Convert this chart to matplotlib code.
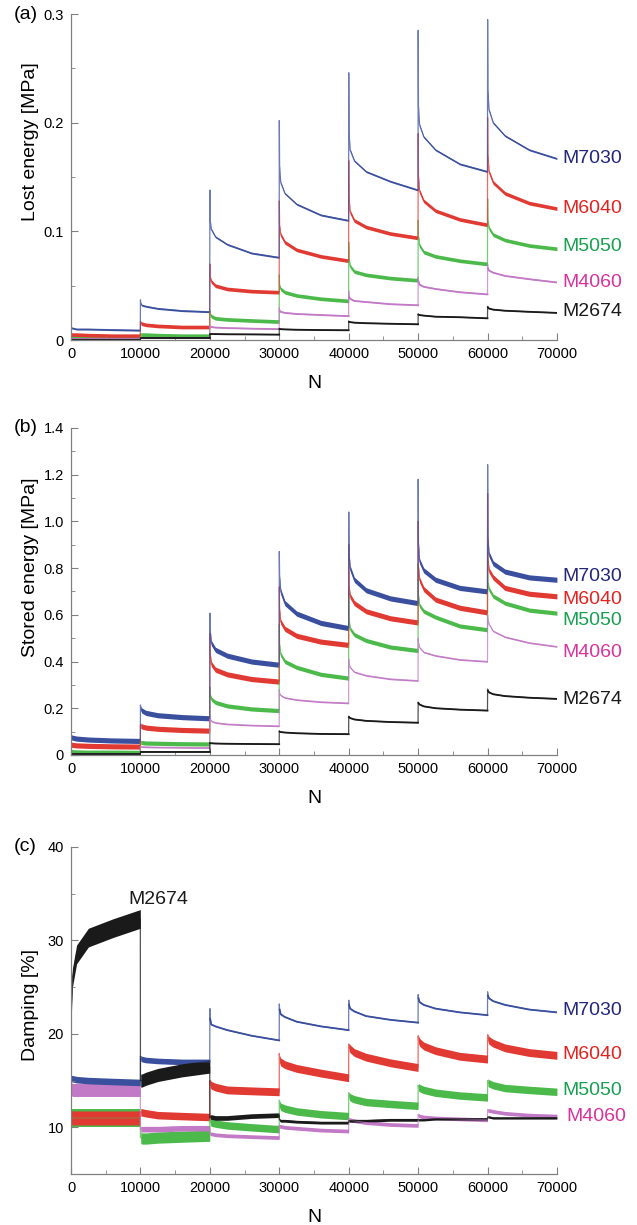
import matplotlib
matplotlib.use("Agg")
import matplotlib.pyplot as plt
from matplotlib.ticker import MultipleLocator, FixedLocator, FuncFormatter

plt.rcParams['font.family'] = ['Liberation Sans', 'DejaVu Sans']

# cycle blocks: each block of 10000 cycles sampled at the same offsets
block_starts = [0, 10000, 20000, 30000, 40000, 50000, 60000]
offsets = [0, 40, 200, 800, 2500, 6000, 9980]

# drawing order (back to front)
series_names = ["M5050", "M6040", "M4060", "M7030", "M2674"]

# (a) lost energy [MPa], one row per block
lost_7030 = [[0.011, 0.011, 0.011, 0.010, 0.010, 0.0095, 0.009],
             [0.037, 0.034, 0.032, 0.031, 0.029, 0.027, 0.026],
             [0.138, 0.110, 0.102, 0.095, 0.088, 0.080, 0.076],
             [0.202, 0.160, 0.145, 0.135, 0.125, 0.115, 0.110],
             [0.246, 0.190, 0.175, 0.165, 0.155, 0.146, 0.138],
             [0.285, 0.215, 0.198, 0.187, 0.175, 0.162, 0.155],
             [0.295, 0.230, 0.212, 0.200, 0.188, 0.175, 0.167]]
lost_6040 = [[0.0055, 0.005, 0.005, 0.005, 0.0045, 0.004, 0.004],
             [0.017, 0.016, 0.015, 0.014, 0.013, 0.012, 0.012],
             [0.070, 0.058, 0.054, 0.050, 0.047, 0.045, 0.044],
             [0.128, 0.105, 0.097, 0.090, 0.083, 0.077, 0.073],
             [0.165, 0.130, 0.118, 0.110, 0.104, 0.098, 0.094],
             [0.190, 0.150, 0.137, 0.128, 0.119, 0.111, 0.106],
             [0.205, 0.170, 0.155, 0.145, 0.135, 0.126, 0.121]]
lost_5050 = [[0.002, 0.002, 0.002, 0.002, 0.0015, 0.0015, 0.0015],
             [0.006, 0.005, 0.005, 0.005, 0.0045, 0.004, 0.004],
             [0.027, 0.024, 0.022, 0.020, 0.019, 0.018, 0.017],
             [0.060, 0.050, 0.047, 0.044, 0.041, 0.038, 0.036],
             [0.090, 0.075, 0.068, 0.063, 0.060, 0.057, 0.055],
             [0.110, 0.095, 0.087, 0.081, 0.077, 0.073, 0.070],
             [0.130, 0.110, 0.103, 0.097, 0.092, 0.087, 0.084]]
lost_4060 = [[0.001, 0.001, 0.001, 0.001, 0.001, 0.001, 0.001],
             [0.0025, 0.0022, 0.002, 0.002, 0.002, 0.002, 0.002],
             [0.013, 0.0125, 0.012, 0.0115, 0.011, 0.0105, 0.010],
             [0.030, 0.027, 0.026, 0.025, 0.024, 0.023, 0.022],
             [0.045, 0.040, 0.038, 0.036, 0.035, 0.033, 0.032],
             [0.058, 0.054, 0.051, 0.049, 0.047, 0.044, 0.042],
             [0.070, 0.066, 0.064, 0.062, 0.059, 0.056, 0.053]]
lost_2674 = [[0.0005, 0.0005, 0.0005, 0.0005, 0.0005, 0.0005, 0.0005],
             [0.002, 0.002, 0.002, 0.002, 0.002, 0.002, 0.002],
             [0.0055, 0.0055, 0.0055, 0.0055, 0.0053, 0.0052, 0.005],
             [0.0105, 0.0103, 0.0100, 0.0098, 0.0095, 0.0092, 0.009],
             [0.0175, 0.0168, 0.0165, 0.016, 0.0155, 0.015, 0.0145],
             [0.024, 0.0235, 0.023, 0.0225, 0.0215, 0.021, 0.020],
             [0.031, 0.030, 0.029, 0.028, 0.027, 0.026, 0.025]]

# (b) stored energy [MPa]
stored_7030 = [[0.078, 0.076, 0.074, 0.070, 0.066, 0.062, 0.060],
               [0.214, 0.200, 0.190, 0.180, 0.170, 0.162, 0.157],
               [0.607, 0.530, 0.480, 0.450, 0.425, 0.400, 0.386],
               [0.871, 0.760, 0.700, 0.650, 0.605, 0.565, 0.543],
               [1.040, 0.860, 0.800, 0.750, 0.705, 0.670, 0.650],
               [1.180, 0.900, 0.830, 0.790, 0.750, 0.715, 0.700],
               [1.243, 0.930, 0.860, 0.820, 0.785, 0.760, 0.750]]
stored_6040 = [[0.045, 0.044, 0.043, 0.041, 0.039, 0.037, 0.036],
               [0.130, 0.126, 0.122, 0.117, 0.112, 0.107, 0.104],
               [0.520, 0.430, 0.390, 0.365, 0.345, 0.325, 0.314],
               [0.720, 0.620, 0.570, 0.540, 0.510, 0.485, 0.471],
               [0.900, 0.720, 0.680, 0.650, 0.615, 0.585, 0.567],
               [1.000, 0.800, 0.750, 0.710, 0.665, 0.630, 0.610],
               [1.120, 0.840, 0.790, 0.760, 0.715, 0.690, 0.679]]
stored_5050 = [[0.015, 0.015, 0.014, 0.013, 0.012, 0.012, 0.011],
               [0.056, 0.054, 0.053, 0.051, 0.050, 0.048, 0.047],
               [0.290, 0.257, 0.240, 0.225, 0.210, 0.197, 0.190],
               [0.560, 0.470, 0.430, 0.400, 0.375, 0.345, 0.329],
               [0.700, 0.580, 0.540, 0.515, 0.490, 0.462, 0.447],
               [0.820, 0.680, 0.640, 0.615, 0.590, 0.552, 0.536],
               [0.900, 0.740, 0.710, 0.680, 0.650, 0.620, 0.607]]
stored_4060 = [[0.006, 0.006, 0.006, 0.005, 0.005, 0.005, 0.005],
               [0.037, 0.036, 0.035, 0.034, 0.033, 0.032, 0.031],
               [0.160, 0.153, 0.145, 0.138, 0.132, 0.127, 0.124],
               [0.280, 0.264, 0.255, 0.245, 0.236, 0.227, 0.222],
               [0.410, 0.390, 0.375, 0.355, 0.340, 0.325, 0.318],
               [0.500, 0.480, 0.460, 0.440, 0.425, 0.408, 0.400],
               [0.600, 0.580, 0.560, 0.530, 0.505, 0.480, 0.464]]
stored_2674 = [[0.003, 0.003, 0.003, 0.003, 0.003, 0.003, 0.003],
               [0.014, 0.014, 0.014, 0.014, 0.014, 0.014, 0.014],
               [0.052, 0.051, 0.050, 0.049, 0.048, 0.047, 0.046],
               [0.103, 0.100, 0.098, 0.096, 0.093, 0.090, 0.089],
               [0.166, 0.162, 0.158, 0.152, 0.146, 0.141, 0.138],
               [0.226, 0.222, 0.216, 0.208, 0.200, 0.194, 0.190],
               [0.282, 0.275, 0.268, 0.260, 0.252, 0.245, 0.240]]

# (c) damping [%]
damp_7030 = [[15.3, 15.2, 15.2, 15.1, 15.0, 14.9, 14.8],
             [17.6, 17.4, 17.3, 17.2, 17.1, 17.0, 17.0],
             [22.7, 21.6, 21.0, 20.8, 20.4, 19.8, 19.3],
             [23.2, 22.6, 22.1, 21.8, 21.3, 20.8, 20.4],
             [23.6, 23.1, 22.7, 22.4, 21.9, 21.5, 21.2],
             [24.2, 23.8, 23.4, 23.1, 22.7, 22.3, 22.0],
             [24.5, 24.1, 23.8, 23.5, 23.1, 22.6, 22.3]]
damp_6040 = [[11.2, 11.1, 11.0, 11.0, 11.0, 11.0, 11.0],
             [11.7, 11.6, 11.6, 11.5, 11.3, 11.2, 11.1],
             [15.0, 14.7, 14.5, 14.3, 14.0, 13.9, 13.8],
             [17.9, 17.3, 17.0, 16.7, 16.3, 15.8, 15.3],
             [18.9, 18.6, 18.4, 18.0, 17.5, 16.9, 16.4],
             [19.8, 19.4, 19.1, 18.7, 18.2, 17.6, 17.3],
             [19.9, 19.6, 19.3, 19.0, 18.5, 18.0, 17.7]]
damp_5050 = [[11.0, 11.0, 11.0, 11.0, 11.0, 11.0, 11.0],
             [8.9, 8.9, 8.8, 8.8, 8.9, 9.0, 9.1],
             [10.8, 10.7, 10.5, 10.4, 10.2, 10.0, 9.8],
             [12.9, 12.5, 12.2, 12.0, 11.7, 11.4, 11.2],
             [13.7, 13.4, 13.2, 13.0, 12.7, 12.5, 12.3],
             [14.5, 14.3, 14.2, 14.0, 13.7, 13.4, 13.2],
             [15.0, 14.8, 14.7, 14.5, 14.2, 14.0, 13.8]]
damp_4060 = [[14.2, 14.1, 14.0, 14.0, 14.0, 14.0, 14.0],
             [9.8, 9.8, 9.8, 9.8, 9.8, 9.9, 9.9],
             [9.4, 9.3, 9.3, 9.2, 9.1, 9.0, 8.9],
             [10.2, 10.1, 10.1, 10.0, 9.9, 9.7, 9.6],
             [11.0, 10.9, 10.8, 10.7, 10.5, 10.3, 10.2],
             [11.4, 11.3, 11.2, 11.1, 11.0, 10.9, 10.8],
             [11.9, 11.8, 11.8, 11.7, 11.5, 11.3, 11.2]]
damp_2674 = [[20.5, 23.0, 26.0, 28.5, 30.3, 31.3, 32.3],
             [15.0, 15.0, 15.0, 15.2, 15.6, 16.1, 16.5],
             [11.0, 11.1, 11.1, 11.0, 11.0, 11.2, 11.3],
             [10.8, 10.8, 10.7, 10.7, 10.6, 10.5, 10.5],
             [10.7, 10.7, 10.7, 10.7, 10.7, 10.8, 10.8],
             [10.8, 10.8, 10.8, 10.8, 10.9, 10.9, 10.9],
             [11.1, 11.1, 11.1, 11.0, 11.0, 11.0, 11.0]]

line_colors = {"M7030": "#3a4f9e", "M6040": "#e03a33", "M5050": "#4cba4a",
               "M4060": "#c27ac6", "M2674": "#1a1a1a"}
text_colors = {"M7030": "#23267a", "M6040": "#e2231f", "M5050": "#17a050",
               "M4060": "#d8339b", "M2674": "#1a1a1a"}

# half width of the noise band per block, in data units (0 = plain line)
band_a = {"M7030": [0.0008] * 7, "M6040": [0.0017] * 7, "M5050": [0.0017] * 7,
          "M4060": [0] * 7, "M2674": [0] * 7}
band_b = {"M7030": [0.011] * 7, "M6040": [0.011] * 7, "M5050": [0.009] * 7,
          "M4060": [0.003] * 7, "M2674": [0] * 7}
band_c = {"M7030": [0.35, 0.3, 0, 0, 0, 0, 0],
          "M6040": [0.75, 0.4, 0.42, 0.42, 0.42, 0.42, 0.42],
          "M5050": [1.0, 0.6, 0.4, 0.4, 0.4, 0.4, 0.4],
          "M4060": [0.7, 0.3, 0.2, 0.2, 0.2, 0.2, 0.2],
          "M2674": [1.0, 0.7, 0.25, 0.15, 0.15, 0.12, 0.12]}


def draw_series(ax, blocks, name, halfwidths):
    color = line_colors[name]
    xs, ys = [], []
    for start, vals in zip(block_starts, blocks):
        xs += [start + o for o in offsets]
        ys += vals
    # thin trace through every point (start spikes and jumps)
    ax.plot(xs, ys, color=color, lw=0.9, alpha=0.75)
    for start, vals, h in zip(block_starts, blocks, halfwidths):
        bx = [start + o for o in offsets[1:]]
        by = vals[1:]
        if h > 0:
            ax.fill_between(bx, [v - h for v in by], [v + h for v in by],
                            color=color, lw=0)
        else:
            ax.plot(bx, by, color=color, lw=1.3)


def style_axes(ax, ymax, ymajor, yminor, ymin=0):
    ax.set_xlim(0, 70000)
    ax.set_ylim(ymin, ymax)
    ax.xaxis.set_major_locator(MultipleLocator(10000))
    ax.xaxis.set_minor_locator(MultipleLocator(5000))
    ax.yaxis.set_major_locator(MultipleLocator(ymajor))
    ax.yaxis.set_minor_locator(MultipleLocator(yminor))
    for side in ["top", "right"]:
        ax.spines[side].set_visible(False)
    for side in ["left", "bottom"]:
        ax.spines[side].set_color("#808080")
        ax.spines[side].set_linewidth(0.9)
    ax.tick_params(which="both", direction="in", color="#808080",
                   labelsize=10.5, pad=5)
    ax.tick_params(which="major", length=5)
    ax.tick_params(which="minor", length=3)
    ax.set_xlabel("N", fontsize=14, labelpad=10)


fig = plt.figure(figsize=(6.37, 12.25), dpi=100)
ax_a = fig.add_axes([0.1115, 0.7224, 0.763, 0.2661])
ax_b = fig.add_axes([0.1115, 0.3837, 0.763, 0.267])
ax_c = fig.add_axes([0.1115, 0.0416, 0.763, 0.267])

panels = [
    (ax_a, {"M7030": lost_7030, "M6040": lost_6040, "M5050": lost_5050,
            "M4060": lost_4060, "M2674": lost_2674}, band_a),
    (ax_b, {"M7030": stored_7030, "M6040": stored_6040, "M5050": stored_5050,
            "M4060": stored_4060, "M2674": stored_2674}, band_b),
    (ax_c, {"M7030": damp_7030, "M6040": damp_6040, "M5050": damp_5050,
            "M4060": damp_4060, "M2674": damp_2674}, band_c),
]
for ax, data, bands in panels:
    for name in series_names:
        draw_series(ax, data[name], name, bands[name])

style_axes(ax_a, 0.3, 0.1, 0.05)
ax_a.yaxis.set_major_locator(FixedLocator([0, 0.1, 0.2, 0.3]))
ax_a.set_yticklabels(["0", "0.1", "0.2", "0.3"])
ax_a.set_ylabel("Lost energy [MPa]", fontsize=14)
ax_a.yaxis.set_label_coords(-0.066, 0.61)

style_axes(ax_b, 1.4, 0.2, 0.1)
ax_b.yaxis.set_major_formatter(
    FuncFormatter(lambda v, p: "0" if v == 0 else f"{v:.1f}"))
ax_b.set_ylabel("Stored energy [MPa]", fontsize=14)
ax_b.yaxis.set_label_coords(-0.066, 0.575)

style_axes(ax_c, 40, 10, 5, ymin=5)
ax_c.set_ylabel("Damping [%]", fontsize=14)
ax_c.yaxis.set_label_coords(-0.066, 0.517)

# series labels at the right end of each panel
label_pos_a = {"M7030": 0.167, "M6040": 0.121, "M5050": 0.086,
               "M4060": 0.053, "M2674": 0.026}
label_pos_b = {"M7030": 0.763, "M6040": 0.666, "M5050": 0.576,
               "M4060": 0.438, "M2674": 0.238}
label_pos_c = {"M7030": 22.5, "M6040": 17.8, "M5050": 13.9, "M4060": 11.2}

for ax, pos in [(ax_a, label_pos_a), (ax_b, label_pos_b), (ax_c, label_pos_c)]:
    for name, y in pos.items():
        x = 71300 if name == "M4060" and ax is ax_c else 70700
        ax.text(x, y, name, color=text_colors[name], fontsize=14,
                ha="left", va="center", clip_on=False)
ax_c.text(8300, 34.4, "M2674", color=text_colors["M2674"], fontsize=14,
          ha="left", va="center")

for ax, tag in [(ax_a, "(a)"), (ax_b, "(b)"), (ax_c, "(c)")]:
    ax.text(-0.118, 1.0, tag, transform=ax.transAxes, fontsize=14,
            ha="left", va="center")

fig.savefig("out.png", dpi=100)
